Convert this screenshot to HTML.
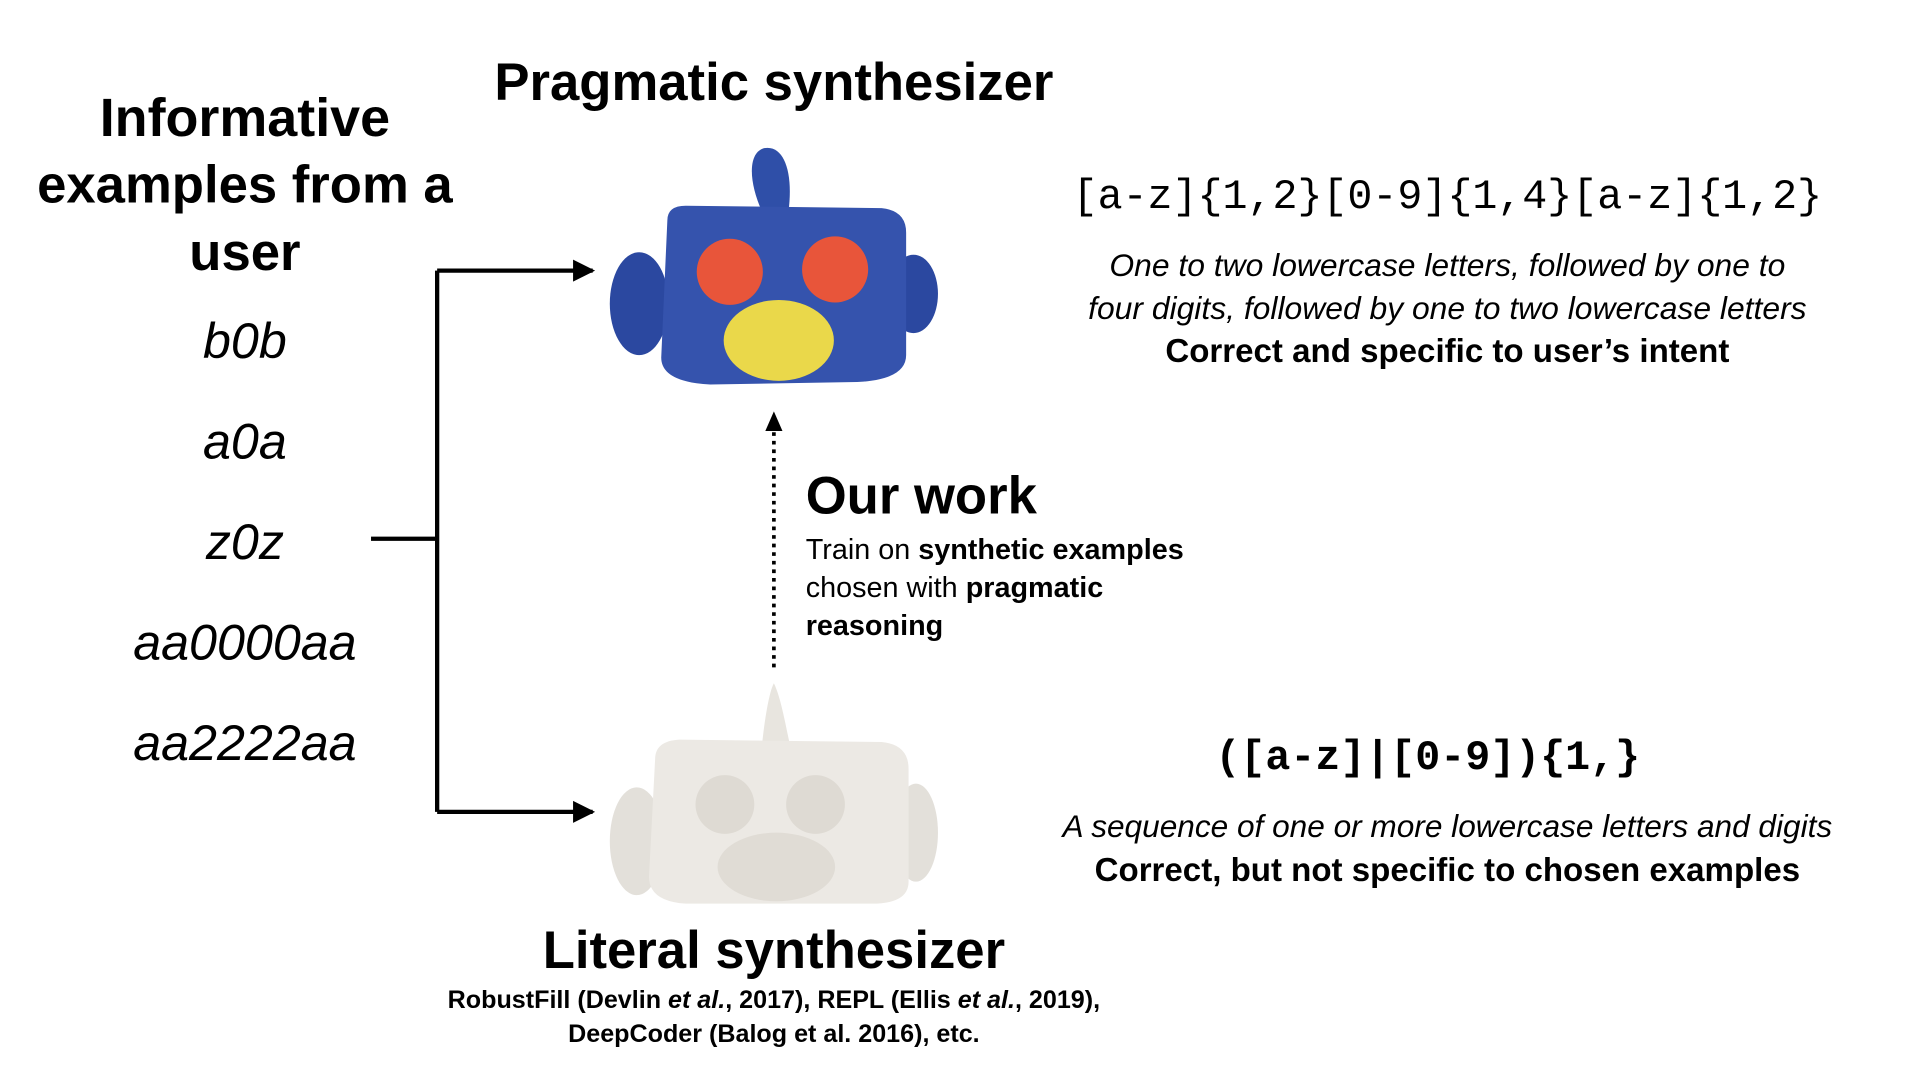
<!DOCTYPE html>
<html><head><meta charset="utf-8"><style>
html,body{margin:0;padding:0;background:#fff;overflow:hidden;width:1920px;height:1080px}
#c{position:absolute;left:0;top:0;width:1570px;height:883px;transform:scale(1.2245,1.2245);transform-origin:0 0;font-family:"Liberation Sans","DejaVu Sans",sans-serif;color:#000}
.t{position:absolute;white-space:nowrap;transform:translate(-50%,-50%)}
.l{position:absolute;white-space:nowrap;transform:translateY(-50%)}
.b{font-weight:bold}
.i{font-style:italic}
.m{font-family:"Liberation Mono","DejaVu Sans Mono",monospace}
</style></head><body><div id="c">
<svg width="1570" height="883" style="position:absolute;left:0;top:0">
<path d="M303,440 H357 M357,221 V663" stroke="#000" stroke-width="3.5" fill="none"/>
<line x1="357" y1="221" x2="484" y2="221" stroke="#000" stroke-width="3.5"/>
<path d="M468,212 L486,221 L468,230z"/>
<line x1="357" y1="663" x2="484" y2="663" stroke="#000" stroke-width="3.5"/>
<path d="M468,654 L486,663 L468,672z"/>
<line x1="632" y1="545" x2="632" y2="350" stroke="#000" stroke-width="3" stroke-dasharray="3,4"/>
<path d="M625,352 L632,336 L639,352z"/>
<g>
<path d="M622,172 C612,150 610,125 624,121 C640,118 648,140 644,172z" fill="#2f4fa8"/>
<ellipse cx="522" cy="248" rx="24" ry="42" fill="#2b48a0"/>
<ellipse cx="746" cy="240" rx="20" ry="32" fill="#2b48a0"/>
<path d="M545,180 Q545,168 560,168 L720,170 Q740,172 740,190 L740,290 Q740,310 700,312 L580,314 Q540,312 540,292z" fill="#3553ad"/>
<ellipse cx="596" cy="222" rx="27" ry="27" fill="#e8553a"/>
<ellipse cx="682" cy="220" rx="27" ry="27" fill="#e8553a"/>
<ellipse cx="636" cy="278" rx="45" ry="33" fill="#ead84a"/>
</g>
<g>
<path d="M622,612 C624,590 628,565 632,558 C638,570 642,595 646,612z" fill="#e8e5df"/>
<ellipse cx="520" cy="687" rx="22" ry="44" fill="#e3e0da"/>
<ellipse cx="748" cy="680" rx="18" ry="40" fill="#e3e0da"/>
<path d="M535,620 Q535,605 555,604 L720,606 Q742,608 742,628 L742,720 Q742,738 712,738 L560,738 Q530,736 530,716z" fill="#ece9e4"/>
<ellipse cx="592" cy="657" rx="24" ry="24" fill="#dedad3"/>
<ellipse cx="666" cy="657" rx="24" ry="24" fill="#dedad3"/>
<ellipse cx="634" cy="708" rx="48" ry="28" fill="#e0dcd5"/>
</g>
</svg>
<div class="t b" style="left:200px;top:97px;font-size:44px">Informative</div>
<div class="t b" style="left:200px;top:152px;font-size:43px">examples from a</div>
<div class="t b" style="left:200px;top:207px;font-size:43px">user</div>
<div class="t i" style="left:200px;top:279px;font-size:41px">b0b</div>
<div class="t i" style="left:200px;top:361px;font-size:41px">a0a</div>
<div class="t i" style="left:200px;top:443px;font-size:41px">z0z</div>
<div class="t i" style="left:200px;top:525px;font-size:41px">aa0000aa</div>
<div class="t i" style="left:200px;top:607px;font-size:41px">aa2222aa</div>
<div class="t b" style="left:632px;top:68px;font-size:43px">Pragmatic synthesizer</div>
<div class="l b" style="left:658px;top:406px;font-size:43px">Our work</div>
<div class="l" style="left:658px;top:449px;font-size:23.5px">Train on <b>synthetic examples</b></div>
<div class="l" style="left:658px;top:480px;font-size:23.5px">chosen with <b>pragmatic</b></div>
<div class="l b" style="left:658px;top:511px;font-size:23.5px">reasoning</div>
<div class="t m" style="left:1182px;top:162px;font-size:34px">[a-z]{1,2}[0-9]{1,4}[a-z]{1,2}</div>
<div class="t i" style="left:1182px;top:217px;font-size:26px">One to two lowercase letters, followed by one to</div>
<div class="t i" style="left:1182px;top:252px;font-size:26px">four digits, followed by one to two lowercase letters</div>
<div class="t b" style="left:1182px;top:287px;font-size:27px">Correct and specific to user’s intent</div>
<div class="t m b" style="left:1166px;top:620px;font-size:34px">([a-z]|[0-9]){1,}</div>
<div class="t i" style="left:1182px;top:676px;font-size:25.8px">A sequence of one or more lowercase letters and digits</div>
<div class="t b" style="left:1182px;top:711px;font-size:27px">Correct, but not specific to chosen examples</div>
<div class="t b" style="left:632px;top:777px;font-size:43px">Literal synthesizer</div>
<div class="t b" style="left:632px;top:817px;font-size:20.5px">RobustFill (Devlin <i>et al.</i>, 2017), REPL (Ellis <i>et al.</i>, 2019),</div>
<div class="t b" style="left:632px;top:845px;font-size:20.5px">DeepCoder (Balog et al. 2016), etc.</div>
</div></body></html>
